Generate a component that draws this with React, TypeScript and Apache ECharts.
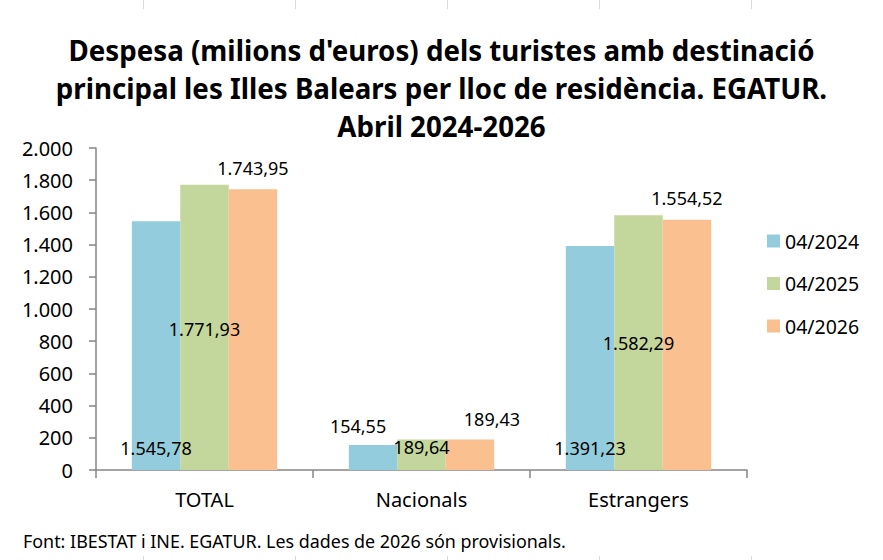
import React, { useEffect, useRef } from 'react';
import * as echarts from 'echarts';

const categories = ['TOTAL', 'Nacionals', 'Estrangers'];
const seriesNames = ['04/2024', '04/2025', '04/2026'];
const values2024 = [1545.78, 154.55, 1391.23];
const values2025 = [1771.93, 189.64, 1582.29];
const values2026 = [1743.95, 189.43, 1554.52];
const yTicks = { min: 0, max: 2000, interval: 200 };
const titleText = "Despesa (milions d'euros) dels turistes amb destinació\nprincipal les Illes Balears per lloc de residència. EGATUR.\nAbril 2024-2026";
const footText = 'Font: IBESTAT i INE. EGATUR. Les dades de 2026 són provisionals.';

const colors = ['#93CDDD', '#C3D69B', '#FAC090'];
const FONT = '"Noto Sans", "Open Sans", sans-serif';

// label placement per series/category: [anchor, dx, dy]
const labelLayout: [string, number, number][][] = [
  [['base', 0, -22], ['top', -15, -19], ['base', 0, -22]],
  [['mid', 0, 2], ['top', 0, 8], ['mid', 0, 0]],
  [['top', 0, -21], ['top', 22, -21], ['top', 0, -22]],
];

function fmt(v: number, dec: number) {
  const s = v.toFixed(dec);
  const [i, d] = s.split('.');
  const ip = i.replace(/\B(?=(\d{3})+(?!\d))/g, '.');
  return d ? ip + ',' + d : ip;
}

function anchorPos(a: string): [string, string] {
  if (a === 'base') return ['50%', '100%'];
  if (a === 'mid') return ['50%', '50%'];
  return ['50%', '0%'];
}

export default function App() {
  const ref = useRef<HTMLDivElement>(null);
  useEffect(() => {
    if (!ref.current) return;
    const chart = echarts.init(ref.current, undefined, { renderer: 'svg' });
    const allValues = [values2024, values2025, values2026];
    const series = allValues.map((vals, si) => ({
      name: seriesNames[si],
      type: 'bar',
      barGap: '0%',
      barCategoryGap: '33%',
      itemStyle: { color: colors[si] },
      data: vals.map((v, ci) => {
        const [a, dx, dy] = labelLayout[si][ci];
        return {
          value: v,
          label: {
            show: true,
            position: anchorPos(a),
            align: 'center',
            verticalAlign: 'middle',
            offset: [dx, dy],
            formatter: () => fmt(v, 2),
            color: '#000',
            fontSize: 18,
            fontFamily: FONT,
          },
        };
      }),
    }));
    const lineStyle = { stroke: '#dadada', lineWidth: 1 };
    const gx = [143.5, 295.5, 447.5, 599.5, 751.5];
    const graphics: any[] = [];
    gx.forEach((x) => {
      graphics.push({ type: 'line', shape: { x1: x, y1: 0, x2: x, y2: 9 }, style: lineStyle, silent: true });
      graphics.push({ type: 'line', shape: { x1: x, y1: 556, x2: x, y2: 560 }, style: lineStyle, silent: true });
    });
    graphics.push({
      type: 'text',
      left: 23,
      top: 532,
      style: { text: footText, fontSize: 17.9, fontFamily: FONT, fill: '#000' },
    });
    chart.setOption({
      animation: false,
      backgroundColor: '#fff',
      textStyle: { fontFamily: FONT },
      title: {
        text: titleText,
        left: 'center',
        top: 31,
        padding: 0,
        textStyle: { fontSize: 27.7, fontWeight: 'bold', lineHeight: 38, color: '#000', fontFamily: FONT },
      },
      legend: {
        orient: 'vertical',
        left: 767,
        top: 231,
        padding: 0,
        itemWidth: 13,
        itemHeight: 13,
        itemGap: 22.5,
        icon: 'rect',
        textStyle: { fontSize: 19.5, color: '#000', fontFamily: FONT },
        data: seriesNames,
      },
      grid: { left: 96, right: 136, top: 148, bottom: 90, containLabel: false },
      xAxis: {
        type: 'category',
        data: categories,
        axisLine: { lineStyle: { color: '#868686', width: 1.5 } },
        axisTick: { show: true, length: 8, lineStyle: { color: '#868686', width: 1.5 } },
        axisLabel: { fontSize: 20, color: '#000', margin: 19, fontFamily: FONT },
      },
      yAxis: {
        type: 'value',
        min: yTicks.min,
        max: yTicks.max,
        interval: yTicks.interval,
        axisLine: { show: true, lineStyle: { color: '#868686', width: 1.5 } },
        axisTick: { show: true, length: 7, lineStyle: { color: '#868686', width: 1.5 } },
        splitLine: { show: false },
        axisLabel: { fontSize: 20, color: '#000', margin: 23, fontFamily: FONT, formatter: (v: number) => fmt(v, 0) },
      },
      series,
      graphic: graphics,
    });
    return () => chart.dispose();
  }, []);
  return <div ref={ref} style={{ position: 'fixed', left: 0, top: 0, width: 883, height: 560 }} />;
}
